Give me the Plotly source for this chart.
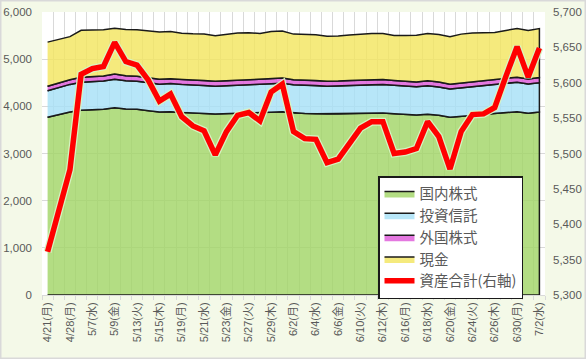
import plotly.graph_objects as go
import numpy as np

dates = ["4/21(月)", "4/25(金)", "4/28(月)", "5/2(金)", "5/7(水)", "5/8(木)", "5/9(金)",
         "5/12(月)", "5/13(火)", "5/14(水)", "5/15(木)", "5/16(金)", "5/19(月)", "5/20(火)",
         "5/21(水)", "5/22(木)", "5/23(金)", "5/26(月)", "5/27(火)", "5/28(水)", "5/29(木)",
         "5/30(金)", "6/2(月)", "6/3(火)", "6/4(水)", "6/5(木)", "6/6(金)", "6/9(月)",
         "6/10(火)", "6/11(水)", "6/12(木)", "6/13(金)", "6/16(月)", "6/17(火)", "6/18(水)",
         "6/19(木)", "6/20(金)", "6/23(月)", "6/24(火)", "6/25(水)", "6/26(木)", "6/27(金)",
         "6/30(月)", "7/1(火)", "7/2(水)"]

domestic = [3767, 3830, 3880, 3915, 3929, 3936, 3971, 3943, 3936, 3908, 3880, 3887, 3870, 3855,
            3850, 3840, 3845, 3850, 3860, 3865, 3875, 3885, 3860, 3850, 3845, 3835, 3838, 3845,
            3850, 3855, 3858, 3845, 3835, 3815, 3830, 3810, 3770, 3790, 3805, 3830, 3850, 3870,
            3886, 3855, 3880]
funds = [565, 575, 585, 595, 598, 600, 605, 600, 598, 595, 590, 595, 595, 593, 592, 588, 592,
         596, 598, 598, 602, 606, 598, 596, 596, 592, 594, 598, 602, 604, 605, 600, 600, 598,
         606, 602, 596, 602, 608, 610, 612, 618, 624, 618, 622]
foreign = [95, 98, 100, 104, 105, 106, 108, 106, 106, 105, 104, 105, 105, 105, 104, 104, 105,
           105, 106, 106, 107, 108, 106, 105, 105, 104, 104, 105, 106, 106, 106, 105, 105, 104,
           105, 105, 103, 105, 106, 107, 107, 108, 109, 108, 109]
cash = [934, 917, 912, 998, 988, 981, 973, 981, 985, 996, 1000, 997, 982, 986, 986, 966, 989,
        1003, 994, 977, 1003, 999, 967, 970, 974, 956, 956, 966, 978, 980, 976, 950, 962, 990,
        1004, 1007, 1009, 1034, 1036, 1009, 996, 1013, 1032, 1027, 1038]
total = [5361, 5420, 5477, 5612, 5620, 5623, 5657, 5630, 5625, 5604, 5574, 5584, 5552, 5539,
         5532, 5498, 5531, 5554, 5558, 5546, 5587, 5598, 5531, 5521, 5520, 5487, 5492, 5514,
         5536, 5545, 5545, 5500, 5502, 5507, 5545, 5524, 5478, 5531, 5555, 5556, 5565, 5609,
         5651, 5608, 5649]

names = ["国内株式", "投資信託", "外国株式", "現金"]
fills = ["rgba(160,212,100,0.8)", "rgba(165,224,246,0.8)", "rgba(221,86,216,0.8)",
         "rgba(243,229,93,0.8)"]

FONT = "Liberation Sans, Noto Sans CJK JP, sans-serif"
GRAY = "#595959"

x = np.arange(len(dates))
fig = go.Figure()

base = np.zeros(len(dates))
for name, vals, col in zip(names, [domestic, funds, foreign, cash], fills):
    top = base + np.array(vals)
    px = np.concatenate([x, x[::-1]])
    py = np.concatenate([top, base[::-1]])
    fig.add_trace(go.Scatter(x=px, y=py, fill="toself", fillcolor=col, mode="lines",
                             line=dict(color="#1a1a1a", width=1.5), name=name,
                             hoverinfo="skip"))
    base = top

fig.add_trace(go.Scatter(x=x, y=total, yaxis="y2", mode="lines",
                         line=dict(color="rgba(215,245,195,0.95)", width=8),
                         showlegend=False, hoverinfo="skip"))
fig.add_trace(go.Scatter(x=x, y=total, yaxis="y2", mode="lines",
                         line=dict(color="#FF0000", width=5.5), name="資産合計(右軸)"))

W, H = 586, 359
ml, mr, mt, mb = 42, 41, 12, 64
pw, ph = W - ml - mr, H - mt - mb

fig.update_layout(
    width=W, height=H,
    margin=dict(l=ml, r=mr, t=mt, b=mb),
    paper_bgcolor="#F4F9E8",
    plot_bgcolor="white",
    font=dict(family=FONT, color=GRAY, size=11),
    xaxis=dict(
        range=[-0.5, len(dates) - 0.5], automargin=False,
        tickmode="array", tickvals=list(x[::2]), ticktext=dates[::2],
        tickangle=-90, tickfont=dict(size=11, color=GRAY),
        ticks="", showgrid=False, zeroline=False,
        showline=True, linecolor="#D9D9D9", linewidth=1,
        minor=dict(tickmode="array", tickvals=list(np.arange(len(dates) + 1) - 0.5),
                   ticks="outside", ticklen=4, tickcolor="#D9D9D9",
                   showgrid=True, gridcolor="#D9D9D9", gridwidth=1),
        ticklabelstandoff=2,
    ),
    yaxis=dict(
        range=[0, 6000], dtick=1000, tickformat=",", showgrid=True, automargin=False,
        gridcolor="#D9D9D9", gridwidth=1, zeroline=False, ticks="",
        tickfont=dict(size=11.5, color=GRAY), ticklabelstandoff=9,
    ),
    yaxis2=dict(
        range=[5300, 5700], dtick=50, tickformat=",", overlaying="y", side="right",
        showgrid=False, zeroline=False, ticks="", automargin=False,
        tickfont=dict(size=11.5, color=GRAY), ticklabelstandoff=7,
    ),
    legend=dict(
        x=(378 - ml) / pw, y=(H - mb - 176) / ph, xanchor="left", yanchor="top",
        bgcolor="white", bordercolor="#1a1a1a", borderwidth=1.5,
        font=dict(size=14.5, color=GRAY, family="Noto Sans CJK JP, Liberation Sans"),
        itemwidth=30,
    ),
    shapes=[dict(type="rect", xref="paper", yref="paper",
                 x0=-ml / pw + 0.001, x1=1 + mr / pw - 0.001,
                 y0=-mb / ph + 0.002, y1=1 + mt / ph - 0.002,
                 line=dict(color="#D9D9D9", width=2), fillcolor="rgba(0,0,0,0)",
                 layer="below")],
)

fig.write_html("out.html", config={"displayModeBar": False},
               post_script="document.body.style.margin='0';")
